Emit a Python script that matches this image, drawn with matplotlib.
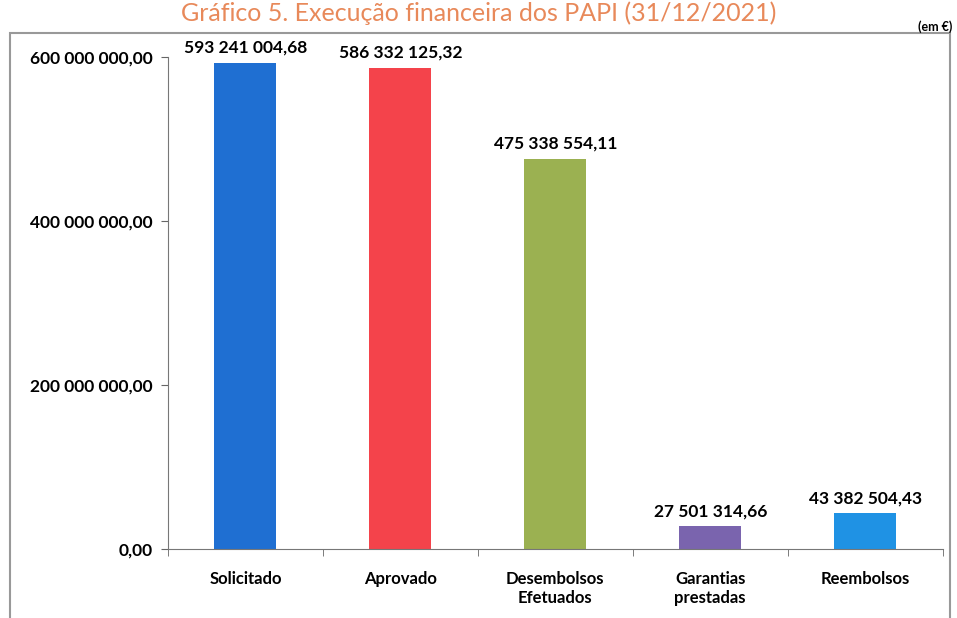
import matplotlib.pyplot as plt
from matplotlib.patches import Rectangle
from matplotlib.ticker import FuncFormatter, FixedLocator

# Dados do gráfico
categorias = ['Solicitado', 'Aprovado', 'Desembolsos\nEfetuados', 'Garantias\nprestadas', 'Reembolsos']
valores = [593241004.68, 586332125.32, 475338554.11, 27501314.66, 43382504.43]
rotulos = ['593 241 004,68', '586 332 125,32', '475 338 554,11', '27 501 314,66', '43 382 504,43']
cores = ['#1f6fd2', '#f4434b', '#9bb151', '#7a64ae', '#1f92e4']

plt.rcParams['font.family'] = ['Lato', 'DejaVu Sans']
plt.rcParams['font.weight'] = 'bold'

fig = plt.figure(figsize=(9.57, 6.18), dpi=100)
ax = fig.add_axes([0.1755, 0.1117, 0.8095, 0.7961])

x = list(range(len(categorias)))
ax.bar(x, valores, width=0.4, color=cores)

for xi, v, r in zip(x, valores, rotulos):
    ax.text(xi, v + 9e6, r, ha='center', va='bottom', fontsize=12.5, fontweight='bold')

ax.set_xlim(-0.5, len(categorias) - 0.5)
ax.set_ylim(0, 600000000)
ax.set_yticks([0, 200000000, 400000000, 600000000])


def fmt(v, pos):
    return f"{v:,.2f}".replace(',', ' ').replace('.', ',')


ax.yaxis.set_major_formatter(FuncFormatter(fmt))
ax.set_xticks(x)
ax.set_xticklabels(categorias)
ax.xaxis.set_minor_locator(FixedLocator([i - 0.5 for i in range(len(categorias) + 1)]))
ax.tick_params(axis='x', which='major', length=0, pad=16, labelsize=12)
ax.tick_params(axis='x', which='minor', length=5, color='#666666', direction='out')
ax.tick_params(axis='y', length=5, color='#666666', labelsize=12.5, pad=6)

for lab in ax.get_xticklabels() + ax.get_yticklabels():
    lab.set_fontweight('bold')

ax.spines['top'].set_visible(False)
ax.spines['right'].set_visible(False)
ax.spines['left'].set_color('#777777')
ax.spines['bottom'].set_color('#777777')

# moldura do gráfico
fig.patches.append(Rectangle((10 / 957, -0.05), 940 / 957, 1 - 33 / 618 + 0.05,
                             transform=fig.transFigure, fill=False,
                             edgecolor='#999999', linewidth=1.5))

fig.text(935 / 957, 1 - 27 / 618, '(em €)', ha='center', va='center', fontsize=9, fontweight='bold')
fig.text(0.5, 1 - 1 / 618, 'Gráfico 5. Execução financeira dos PAPI (31/12/2021)',
         ha='center', va='top', fontsize=18, fontweight='normal', color='#e8895a')

fig.savefig('out.png', dpi=100)
